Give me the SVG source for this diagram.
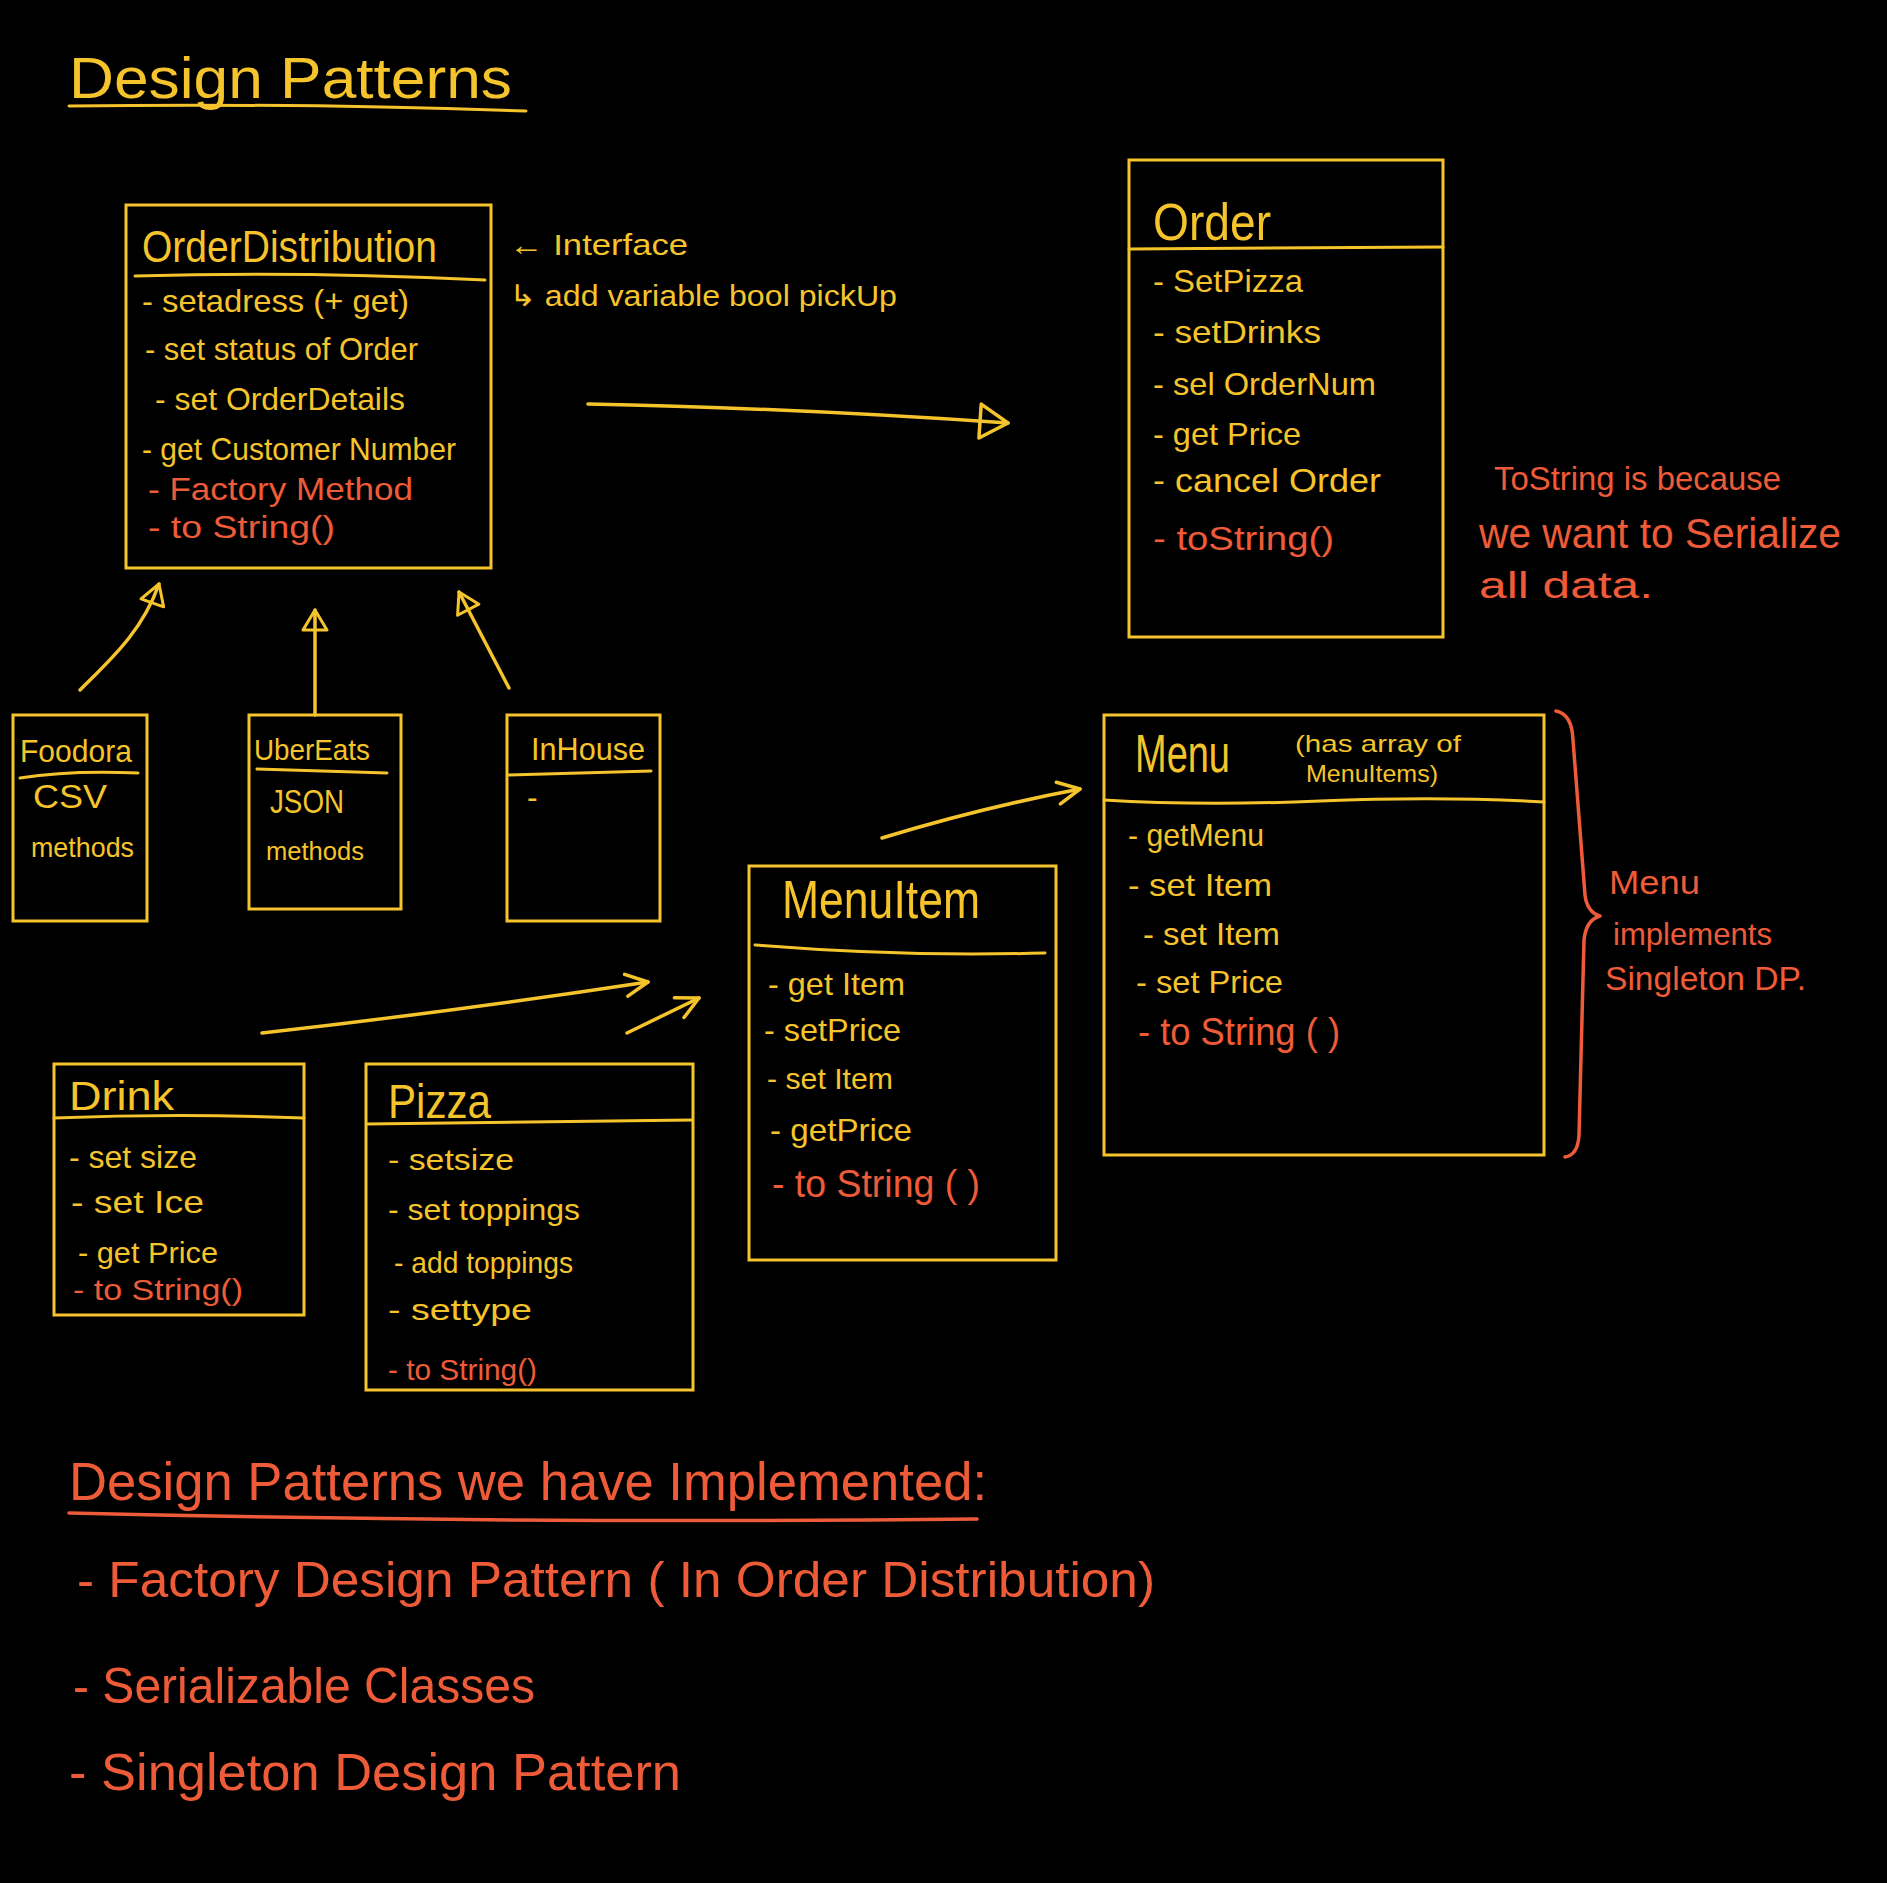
<svg xmlns="http://www.w3.org/2000/svg" width="1887" height="1883" viewBox="0 0 1887 1883">
<style>
text{font-family:"Liberation Sans","DejaVu Sans",sans-serif;}
.y{fill:#F5C42C;}
.r{fill:#EE5B38;}
.box{fill:none;stroke:#F5C42C;stroke-width:3;}
.ln{fill:none;stroke:#F5C42C;stroke-width:3;stroke-linecap:round;}
.rl{fill:none;stroke:#EE5B38;stroke-width:3.5;stroke-linecap:round;stroke-linejoin:round;}
.conn{fill:none;stroke:#F5C42C;stroke-width:3.5;stroke-linecap:round;}
</style>
<defs>
<marker id="triBig" viewBox="0 0 34 40" refX="31" refY="20" markerWidth="34" markerHeight="40" markerUnits="userSpaceOnUse" orient="auto">
<path d="M3,3 L31,20 L3,37 Z" fill="none" stroke="#F5C42C" stroke-width="3.5" stroke-linejoin="round"/>
</marker>
<marker id="tri" viewBox="0 0 26 30" refX="23" refY="15" markerWidth="26" markerHeight="30" markerUnits="userSpaceOnUse" orient="auto">
<path d="M3,3 L23,15 L3,27 Z" fill="none" stroke="#F5C42C" stroke-width="3" stroke-linejoin="round"/>
</marker>
<marker id="chev" viewBox="0 0 30 30" refX="26" refY="15" markerWidth="30" markerHeight="30" markerUnits="userSpaceOnUse" orient="auto">
<path d="M4,4 L26,15 L4,26" fill="none" stroke="#F5C42C" stroke-width="3.5" stroke-linecap="round" stroke-linejoin="round"/>
</marker>
</defs>
<rect width="1887" height="1883" fill="#000"/>

<g id="title">
<text class="y" x="69" y="98" font-size="58" textLength="443" lengthAdjust="spacingAndGlyphs">Design Patterns</text>
<path class="ln" d="M69,106 Q300,103 526,111" stroke-width="4"/>
</g>

<g id="orderDistribution">
<rect class="box" x="126" y="205" width="365" height="363"/>
<text class="y" x="142" y="262" font-size="44" textLength="295" lengthAdjust="spacingAndGlyphs">OrderDistribution</text>
<path class="ln" d="M135,276 Q300,271 485,280"/>
<text class="y" x="142" y="312" font-size="32" textLength="267" lengthAdjust="spacingAndGlyphs">- setadress (+ get)</text>
<text class="y" x="145" y="360" font-size="32" textLength="273" lengthAdjust="spacingAndGlyphs">- set status of Order</text>
<text class="y" x="155" y="410" font-size="32" textLength="250" lengthAdjust="spacingAndGlyphs">- set OrderDetails</text>
<text class="y" x="142" y="460" font-size="32" textLength="314" lengthAdjust="spacingAndGlyphs">- get Customer Number</text>
<text class="r" x="148" y="500" font-size="32" textLength="265" lengthAdjust="spacingAndGlyphs">- Factory Method</text>
<text class="r" x="148" y="538" font-size="32" textLength="187" lengthAdjust="spacingAndGlyphs">- to String()</text>
</g>

<g id="interfaceNote">
<text class="y" x="509" y="255" font-size="30" textLength="179" lengthAdjust="spacingAndGlyphs">← Interface</text>
<text class="y" x="509" y="306" font-size="30" textLength="388" lengthAdjust="spacingAndGlyphs">↳ add variable bool pickUp</text>
</g>

<g id="order">
<rect class="box" x="1129" y="160" width="314" height="477"/>
<path class="ln" d="M1129,249 L1443,247"/>
<text class="y" x="1153" y="240" font-size="52" textLength="118" lengthAdjust="spacingAndGlyphs">Order</text>
<text class="y" x="1153" y="292" font-size="32" textLength="150" lengthAdjust="spacingAndGlyphs">- SetPizza</text>
<text class="y" x="1153" y="343" font-size="32" textLength="168" lengthAdjust="spacingAndGlyphs">- setDrinks</text>
<text class="y" x="1153" y="395" font-size="32" textLength="223" lengthAdjust="spacingAndGlyphs">- sel OrderNum</text>
<text class="y" x="1153" y="445" font-size="32" textLength="148" lengthAdjust="spacingAndGlyphs">- get Price</text>
<text class="y" x="1153" y="492" font-size="34" textLength="228" lengthAdjust="spacingAndGlyphs">- cancel Order</text>
<text class="r" x="1153" y="550" font-size="34" textLength="181" lengthAdjust="spacingAndGlyphs">- toString()</text>
</g>

<g id="toStringNote">
<text class="r" x="1494" y="490" font-size="34" textLength="287" lengthAdjust="spacingAndGlyphs">ToString is because</text>
<text class="r" x="1479" y="548" font-size="42" textLength="362" lengthAdjust="spacingAndGlyphs">we want to Serialize</text>
<text class="r" x="1479" y="598" font-size="36" textLength="174" lengthAdjust="spacingAndGlyphs">all data.</text>
</g>

<g id="foodora">
<rect class="box" x="13" y="715" width="134" height="206"/>
<text class="y" x="20" y="762" font-size="32" textLength="112" lengthAdjust="spacingAndGlyphs">Foodora</text>
<path class="ln" d="M20,778 Q70,770 138,773"/>
<text class="y" x="33" y="808" font-size="34" textLength="74" lengthAdjust="spacingAndGlyphs">CSV</text>
<text class="y" x="31" y="857" font-size="28" textLength="103" lengthAdjust="spacingAndGlyphs">methods</text>
</g>

<g id="uberEats">
<rect class="box" x="249" y="715" width="152" height="194"/>
<text class="y" x="254" y="760" font-size="30" textLength="116" lengthAdjust="spacingAndGlyphs">UberEats</text>
<path class="ln" d="M257,769 L387,773"/>
<text class="y" x="270" y="813" font-size="34" textLength="74" lengthAdjust="spacingAndGlyphs">JSON</text>
<text class="y" x="266" y="860" font-size="26" textLength="98" lengthAdjust="spacingAndGlyphs">methods</text>
</g>

<g id="inHouse">
<rect class="box" x="507" y="715" width="153" height="206"/>
<text class="y" x="531" y="760" font-size="32" textLength="114" lengthAdjust="spacingAndGlyphs">InHouse</text>
<path class="ln" d="M509,775 L651,771"/>
<text class="y" x="527" y="808" font-size="32">-</text>
</g>

<g id="menu">
<rect class="box" x="1104" y="715" width="440" height="440"/>
<path class="ln" d="M1104,800 Q1200,806 1320,801 T1544,802"/>
<text class="y" x="1135" y="772" font-size="54" textLength="95" lengthAdjust="spacingAndGlyphs">Menu</text>
<text class="y" x="1295" y="752" font-size="24" textLength="166" lengthAdjust="spacingAndGlyphs">(has array of</text>
<text class="y" x="1306" y="782" font-size="24" textLength="132" lengthAdjust="spacingAndGlyphs">MenuItems)</text>
<text class="y" x="1128" y="846" font-size="32" textLength="136" lengthAdjust="spacingAndGlyphs">- getMenu</text>
<text class="y" x="1128" y="896" font-size="32" textLength="144" lengthAdjust="spacingAndGlyphs">- set Item</text>
<text class="y" x="1143" y="945" font-size="32" textLength="137" lengthAdjust="spacingAndGlyphs">- set Item</text>
<text class="y" x="1136" y="993" font-size="32" textLength="147" lengthAdjust="spacingAndGlyphs">- set Price</text>
<text class="r" x="1138" y="1045" font-size="38" textLength="202" lengthAdjust="spacingAndGlyphs">- to String ( )</text>
</g>

<g id="singletonNote">
<path class="rl" d="M1556,711 Q1572,714 1573,740 L1585,895 Q1587,912 1600,916 Q1586,920 1584,940 L1579,1135 Q1578,1155 1565,1157"/>
<text class="r" x="1609" y="894" font-size="34" textLength="91" lengthAdjust="spacingAndGlyphs">Menu</text>
<text class="r" x="1613" y="945" font-size="32" textLength="159" lengthAdjust="spacingAndGlyphs">implements</text>
<text class="r" x="1605" y="990" font-size="34" textLength="201" lengthAdjust="spacingAndGlyphs">Singleton DP.</text>
</g>

<g id="menuItem">
<rect class="box" x="749" y="866" width="307" height="394"/>
<text class="y" x="782" y="918" font-size="54" textLength="198" lengthAdjust="spacingAndGlyphs">MenuItem</text>
<path class="ln" d="M755,945 Q900,957 1045,953"/>
<text class="y" x="768" y="995" font-size="32" textLength="137" lengthAdjust="spacingAndGlyphs">- get Item</text>
<text class="y" x="764" y="1041" font-size="32" textLength="137" lengthAdjust="spacingAndGlyphs">- setPrice</text>
<text class="y" x="767" y="1089" font-size="30" textLength="126" lengthAdjust="spacingAndGlyphs">- set Item</text>
<text class="y" x="770" y="1141" font-size="32" textLength="142" lengthAdjust="spacingAndGlyphs">- getPrice</text>
<text class="r" x="772" y="1197" font-size="38" textLength="208" lengthAdjust="spacingAndGlyphs">- to String ( )</text>
</g>

<g id="drink">
<rect class="box" x="54" y="1064" width="250" height="251"/>
<text class="y" x="69" y="1110" font-size="40" textLength="105" lengthAdjust="spacingAndGlyphs">Drink</text>
<path class="ln" d="M54,1118 Q180,1113 304,1118"/>
<text class="y" x="69" y="1168" font-size="32" textLength="128" lengthAdjust="spacingAndGlyphs">- set size</text>
<text class="y" x="71" y="1213" font-size="32" textLength="133" lengthAdjust="spacingAndGlyphs">- set Ice</text>
<text class="y" x="78" y="1263" font-size="30" textLength="140" lengthAdjust="spacingAndGlyphs">- get Price</text>
<text class="r" x="73" y="1300" font-size="30" textLength="170" lengthAdjust="spacingAndGlyphs">- to String()</text>
</g>

<g id="pizza">
<rect class="box" x="366" y="1064" width="327" height="326"/>
<text class="y" x="388" y="1118" font-size="48" textLength="103" lengthAdjust="spacingAndGlyphs">Pizza</text>
<path class="ln" d="M367,1124 L692,1120"/>
<text class="y" x="388" y="1170" font-size="30" textLength="126" lengthAdjust="spacingAndGlyphs">- setsize</text>
<text class="y" x="388" y="1220" font-size="30" textLength="192" lengthAdjust="spacingAndGlyphs">- set toppings</text>
<text class="y" x="394" y="1273" font-size="30" textLength="179" lengthAdjust="spacingAndGlyphs">- add toppings</text>
<text class="y" x="388" y="1320" font-size="30" textLength="144" lengthAdjust="spacingAndGlyphs">- settype</text>
<text class="r" x="388" y="1380" font-size="30" textLength="149" lengthAdjust="spacingAndGlyphs">- to String()</text>
</g>

<g id="connectors">
<path class="conn" d="M80,690 C110,660 142,632 159,584" marker-end="url(#tri)"/>
<path class="conn" d="M315,715 L315,610" marker-end="url(#tri)"/>
<path class="conn" d="M509,688 L459,592" marker-end="url(#tri)"/>
<path class="conn" d="M588,404 Q790,408 1008,423" marker-end="url(#triBig)"/>
<path class="conn" d="M262,1033 Q450,1012 648,982" marker-end="url(#chev)"/>
<path class="conn" d="M627,1033 L699,998" marker-end="url(#chev)"/>
<path class="conn" d="M882,838 Q980,808 1080,789" marker-end="url(#chev)"/>
</g>

<g id="implementedPatterns">
<text class="r" x="69" y="1500" font-size="54" textLength="918" lengthAdjust="spacingAndGlyphs">Design Patterns we have Implemented:</text>
<path class="rl" d="M69,1513 Q520,1524 977,1519"/>
<text class="r" x="77" y="1597" font-size="50" textLength="1078" lengthAdjust="spacingAndGlyphs">- Factory Design Pattern ( In Order Distribution)</text>
<text class="r" x="73" y="1703" font-size="50" textLength="462" lengthAdjust="spacingAndGlyphs">- Serializable Classes</text>
<text class="r" x="69" y="1790" font-size="52" textLength="612" lengthAdjust="spacingAndGlyphs">- Singleton Design Pattern</text>
</g>
</svg>
